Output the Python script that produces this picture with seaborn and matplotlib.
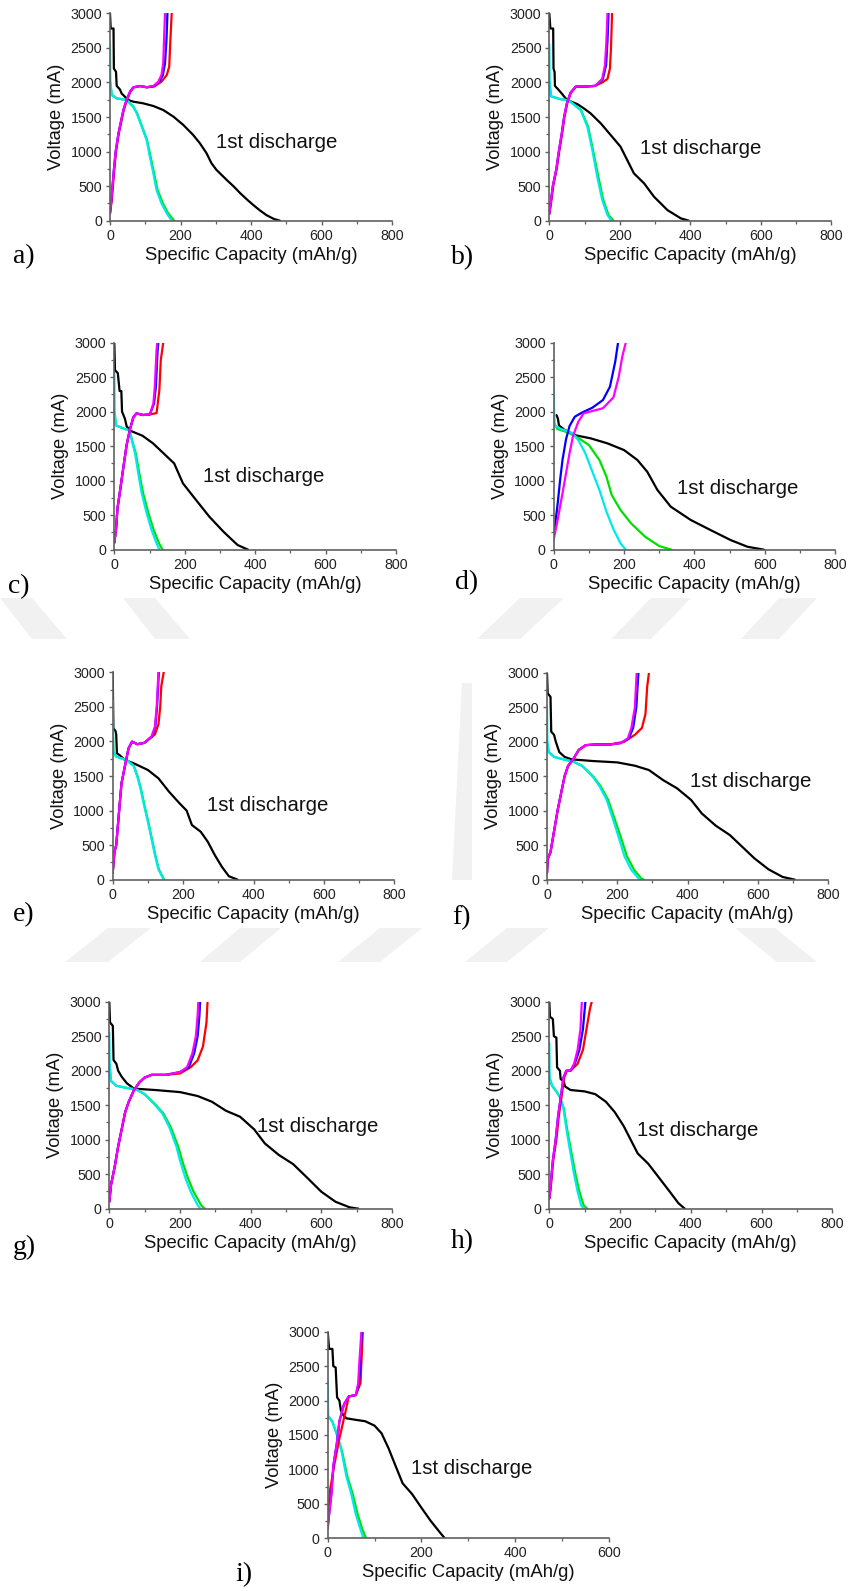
import matplotlib
matplotlib.use("Agg")
import matplotlib.pyplot as plt
import pandas as pd
import seaborn as sns
from matplotlib.ticker import MultipleLocator
from matplotlib.patches import Polygon

# ---------------- data (capacity mAh/g, voltage) ----------------
a_black = [(0,3000),(2,2780),(10,2780),(11,2200),(17,2155),(19,1950),(28,1900),(33,1840),(42,1795),(52,1746),(66,1722),(94,1698),(123,1659),(151,1601),(180,1505),(208,1385),(236,1240),(255,1120),(274,975),(288,830),(302,735),(331,590),(350,500),(369,400),(390,300),(407,225),(425,150),(444,80),(465,25),(482,0)]
a_green = [(0,2000),(5,1818),(19,1770),(47,1746),(66,1650),(77,1553),(91,1360),(105,1167),(115,926),(125,685),(135,444),(150,251),(165,106),(182,0)]
a_cyan = [(0,2550),(1,2035),(5,1818),(19,1770),(47,1746),(66,1650),(76,1553),(90,1360),(104,1167),(113,926),(123,685),(132,444),(146,251),(161,106),(175,0)]
a_red = [(0,106),(5,300),(8,492),(12,733),(17,998),(25,1264),(32,1432),(39,1601),(48,1746),(58,1867),(67,1929),(86,1948),(105,1930),(125,1940),(146,2011),(161,2107),(168,2228),(170,2469),(175,3000)]
a_blue = [(0,106),(4,300),(7,492),(11,733),(16,998),(24,1264),(31,1432),(38,1601),(47,1746),(57,1867),(66,1929),(85,1948),(104,1930),(125,1948),(140,2011),(150,2107),(156,2276),(160,2600),(163,3000)]
a_magenta = [(0,106),(4,300),(7,492),(11,733),(16,998),(24,1264),(31,1432),(38,1601),(47,1746),(57,1867),(66,1929),(85,1948),(104,1930),(123,1948),(137,2011),(146,2107),(151,2276),(154,2710),(156,3000)]

b_black = [(0,3000),(3,2780),(11,2780),(12,2200),(15,2150),(16,1950),(25,1900),(35,1842),(50,1746),(79,1688),(98,1625),(117,1553),(146,1408),(174,1240),(202,1071),(221,878),(240,685),(269,540),(297,347),(335,154),(373,34),(396,0)]
b_green = [(0,2000),(5,1800),(30,1760),(55,1740),(90,1600),(110,1360),(124,1022),(139,637),(153,300),(168,82),(182,0)]
b_cyan = [(0,2550),(1,2000),(5,1800),(30,1760),(55,1740),(89,1600),(108,1360),(122,1022),(136,637),(150,300),(165,82),(176,0)]
b_red = [(0,100),(6,300),(11,500),(21,750),(28,1000),(36,1250),(43,1500),(51,1700),(61,1850),(76,1940),(100,1940),(130,1950),(150,2000),(165,2050),(172,2200),(175,2500),(178,3000)]
b_blue = [(0,100),(5,300),(10,500),(20,750),(27,1000),(35,1250),(42,1500),(50,1700),(60,1850),(75,1940),(100,1940),(130,1950),(152,2050),(161,2250),(165,2600),(168,3000)]
b_magenta = [(0,100),(5,300),(10,500),(20,750),(27,1000),(35,1250),(42,1500),(50,1700),(60,1850),(75,1940),(100,1940),(130,1950),(150,2050),(158,2250),(162,2600),(165,3000)]

c_black = [(0,3000),(2,2600),(10,2560),(15,2300),(20,2300),(22,2000),(30,1900),(35,1790),(45,1725),(80,1652),(110,1541),(140,1396),(170,1251),(195,961),(230,734),(270,478),(310,261),(350,68),(380,0)]
c_green = [(0,2000),(5,1800),(30,1750),(43,1730),(55,1500),(61,1396),(71,1106),(82,816),(97,527),(112,285),(127,92),(137,0)]
c_cyan = [(0,2550),(1,2000),(5,1800),(30,1750),(43,1730),(54,1500),(59,1396),(68,1106),(78,816),(92,527),(106,285),(120,92),(128,0)]
c_red = [(0,100),(5,300),(9,600),(16,840),(26,1203),(35,1517),(44,1734),(54,1918),(63,1976),(82,1952),(101,1961),(120,1980),(128,2314),(132,2749),(139,3000)]
c_blue = [(0,100),(5,300),(9,600),(16,840),(26,1203),(35,1517),(44,1734),(54,1918),(63,1976),(82,1952),(101,1961),(113,2121),(118,2362),(123,2894),(125,3000)]
c_magenta = [(0,100),(5,300),(9,600),(16,840),(26,1203),(35,1517),(44,1734),(54,1918),(63,1976),(82,1952),(101,1961),(111,2121),(115,2362),(120,2894),(122,3000)]

d_black = [(8,1950),(12,1900),(15,1800),(30,1740),(58,1662),(105,1614),(153,1541),(200,1444),(238,1300),(266,1130),(295,865),(333,623),(390,430),(446,285),(503,140),(551,43),(598,0)]
d_green = [(0,1850),(10,1750),(40,1700),(70,1620),(100,1517),(130,1300),(150,1058),(165,792),(190,575),(220,382),(260,188),(300,53),(335,0)]
d_cyan = [(0,2350),(1,2000),(3,1800),(20,1750),(50,1700),(70,1589),(90,1396),(110,1130),(130,865),(150,551),(170,295),(190,92),(205,0)]
d_red = []
d_blue = [(0,200),(5,400),(12,700),(18,1000),(25,1300),(35,1599),(45,1792),(60,1927),(80,1986),(110,2058),(140,2169),(160,2362),(175,2725),(183,3000)]
d_magenta = [(0,150),(10,400),(25,816),(35,1106),(45,1396),(55,1650),(70,1855),(85,1976),(110,2010),(140,2050),(170,2208),(185,2507),(195,2797),(205,3000)]

e_black = [(0,3000),(2,2190),(8,2150),(10,2100),(12,1828),(20,1800),(35,1731),(60,1683),(100,1587),(130,1466),(160,1273),(190,1104),(210,1000),(225,791),(250,694),(270,550),(290,357),(310,188),(330,50),(355,0)]
e_green = [(0,2200),(2,1850),(10,1780),(30,1746),(42,1720),(60,1645),(71,1490),(81,1297),(91,1056),(101,839),(111,598),(121,357),(131,150),(146,0)]
e_cyan = [(0,2600),(1,2200),(2,1850),(10,1780),(30,1746),(42,1720),(60,1645),(70,1490),(80,1297),(90,1056),(100,839),(110,598),(120,357),(130,150),(145,0)]
e_red = [(0,100),(5,400),(10,500),(15,800),(20,1100),(25,1394),(35,1650),(45,1900),(55,1997),(70,1960),(90,1980),(110,2069),(120,2100),(130,2250),(135,2500),(138,2800),(145,3000)]
e_blue = [(0,100),(5,400),(10,500),(15,800),(20,1100),(25,1394),(35,1650),(45,1900),(55,1997),(70,1960),(90,1980),(112,2069),(121,2214),(126,2503),(131,3000)]
e_magenta = [(0,100),(5,400),(10,500),(15,800),(20,1100),(25,1394),(35,1650),(45,1900),(55,1997),(70,1960),(90,1980),(110,2069),(120,2214),(125,2503),(130,3000)]

f_black = [(0,3000),(2,2700),(10,2650),(12,2145),(20,2100),(25,2000),(35,1850),(50,1780),(70,1744),(130,1720),(200,1700),(250,1652),(290,1589),(330,1444),(370,1324),(410,1155),(440,961),(480,783),(520,647),(550,502),(590,309),(630,150),(670,40),(705,0)]
f_green = [(0,2000),(5,1850),(20,1780),(50,1740),(75,1710),(100,1650),(132,1493),(153,1350),(174,1155),(195,840),(211,599),(227,343),(248,140),(268,20),(275,0)]
f_cyan = [(0,2500),(1,2000),(5,1850),(20,1780),(50,1740),(75,1710),(100,1650),(130,1493),(150,1350),(170,1155),(190,840),(205,599),(220,343),(240,140),(260,20),(265,0)]
f_red = [(0,100),(2,300),(10,400),(20,700),(30,1000),(40,1250),(50,1500),(60,1650),(75,1750),(90,1879),(110,1950),(140,1960),(180,1960),(220,2000),(250,2100),(270,2200),(280,2400),(285,2800),(290,3000)]
f_blue = [(0,100),(2,300),(10,400),(20,700),(30,1000),(40,1250),(50,1500),(60,1650),(75,1750),(90,1879),(110,1950),(140,1960),(180,1960),(210,1980),(233,2050),(245,2200),(254,2500),(260,3000)]
f_magenta = [(0,100),(2,300),(10,400),(20,700),(30,1000),(40,1250),(50,1500),(60,1650),(75,1750),(90,1879),(110,1950),(140,1960),(180,1960),(210,1980),(230,2050),(240,2200),(250,2500),(255,3000)]

g_black = [(0,3000),(2,2700),(10,2650),(12,2155),(20,2100),(25,2000),(35,1913),(50,1816),(70,1740),(130,1720),(200,1690),(250,1633),(290,1551),(330,1420),(370,1333),(410,1150),(440,947),(480,778),(520,647),(560,449),(600,246),(640,101),(680,20),(705,0)]
g_green = [(0,2100),(5,1850),(20,1780),(50,1750),(75,1730),(100,1660),(132,1500),(153,1380),(174,1180),(195,900),(206,700),(222,450),(238,250),(260,50),(270,0)]
g_cyan = [(0,2550),(1,2100),(5,1850),(20,1780),(50,1750),(75,1730),(100,1660),(130,1500),(150,1380),(170,1180),(190,900),(200,700),(215,450),(230,250),(250,50),(258,0)]
g_red = [(0,100),(5,350),(15,600),(25,900),(35,1150),(45,1400),(55,1550),(70,1720),(85,1830),(100,1900),(120,1940),(160,1940),(200,1960),(230,2050),(250,2150),(265,2350),(275,2700),(278,3000)]
g_blue = [(0,100),(5,350),(15,600),(25,900),(35,1150),(45,1400),(55,1550),(70,1720),(85,1830),(100,1900),(120,1940),(160,1940),(200,1980),(225,2050),(240,2250),(250,2500),(255,2800),(257,3000)]
g_magenta = [(0,100),(5,350),(15,600),(25,900),(35,1150),(45,1400),(55,1550),(70,1720),(85,1830),(100,1900),(120,1940),(160,1940),(200,1980),(220,2050),(235,2250),(245,2500),(250,2800),(252,3000)]

h_black = [(0,3000),(2,2780),(10,2750),(13,2500),(20,2480),(22,2048),(30,2000),(32,1880),(40,1850),(45,1770),(60,1720),(100,1700),(130,1660),(160,1550),(185,1400),(210,1200),(230,1000),(250,800),(280,650),(310,450),(340,250),(365,80),(383,0)]
h_green = [(0,1900),(8,1780),(20,1700),(30,1618),(41,1450),(52,1100),(63,800),(74,500),(85,250),(97,50),(107,0)]
h_cyan = [(0,2400),(1,1900),(8,1780),(20,1700),(30,1618),(40,1450),(50,1100),(60,800),(70,500),(80,250),(90,50),(98,0)]
h_red = [(0,150),(4,300),(11,700),(20,1000),(27,1350),(34,1600),(42,1900),(50,2000),(60,2000),(80,2100),(95,2300),(105,2600),(115,2900),(120,3000)]
h_blue = [(0,150),(3,300),(10,700),(18,1000),(25,1350),(32,1600),(40,1900),(48,2000),(60,2000),(72,2100),(85,2300),(95,2600),(102,3000)]
h_magenta = [(0,150),(3,300),(10,700),(18,1000),(25,1350),(32,1600),(40,1900),(48,2000),(60,2000),(70,2100),(80,2300),(88,2600),(92,3000)]

i_black = [(0,3000),(3,2750),(10,2750),(12,2500),(17,2480),(20,2047),(25,2000),(28,1863),(33,1790),(40,1742),(60,1720),(80,1700),(100,1636),(115,1524),(130,1306),(145,1050),(160,798),(180,644),(200,445),(220,252),(240,82),(250,0)]
i_green = [(0,1780),(10,1694),(20,1500),(31,1250),(42,895),(53,653),(64,348),(74,130),(82,0)]
i_cyan = [(0,2300),(1,1780),(10,1694),(20,1500),(30,1250),(40,895),(50,653),(60,348),(70,130),(76,0)]
i_red = [(0,300),(5,700),(15,1100),(25,1450),(40,1900),(45,2060),(60,2080),(70,2250),(72,2550),(75,3000)]
i_blue = [(0,150),(3,350),(8,650),(12,1050),(20,1400),(25,1700),(35,1950),(45,2060),(60,2080),(67,2250),(70,2600),(73,3000)]
i_magenta = [(0,150),(3,350),(8,650),(12,1050),(20,1400),(25,1700),(35,1950),(45,2060),(60,2080),(65,2250),(68,2600),(72,3000)]

panel_letters = ["a", "b", "c", "d", "e", "f", "g", "h", "i"]
x_max = [800, 800, 800, 800, 800, 800, 800, 800, 600]
series_names = ["black", "green", "cyan", "red", "blue", "magenta"]
series_colors = {"black": "#000000", "green": "#00e000", "cyan": "#00e8f0",
                 "red": "#ff0000", "blue": "#0000ff", "magenta": "#ff00ff"}
x_label = "Specific Capacity (mAh/g)"
y_label = "Voltage (mA)"
note_text = "1st discharge"

# ---------------- layout (pixels) ----------------
W, H = 848, 1591
axes_px = {  # left, top, right, bottom
    "a": (110, 13.3, 392, 220.7), "b": (549.3, 13.3, 831.3, 220.7),
    "c": (114.3, 342.7, 396, 549.7), "d": (553.7, 342.7, 835, 549.7),
    "e": (112.7, 672.3, 394.3, 879.7), "f": (547, 672.7, 828.3, 879.7),
    "g": (109.3, 1001.7, 392, 1208.7), "h": (549.3, 1001.7, 832.3, 1208.7),
    "i": (327.7, 1331.7, 608.7, 1538.3),
}
note_pos = {"a": (300, 1124), "b": (257, 1051), "c": (252, 1058), "d": (351, 890),
            "e": (268, 1080), "f": (407, 1420), "g": (418, 1188), "h": (248, 1140),
            "i": (177, 1016)}
tag_px = {"a": (13, 257), "b": (451, 258), "c": (8, 587), "d": (455, 583),
          "e": (13, 915), "f": (452, 918), "g": (13, 1247), "h": (451, 1242),
          "i": (235, 1575)}

sns.set_style("ticks")
plt.rcParams["font.family"] = ["Liberation Sans", "DejaVu Sans"]

fig = plt.figure(figsize=(W / 100, H / 100), dpi=100)
fig.patch.set_facecolor("white")

# faint background watermark stripes (drawn behind everything)
wm = "#f1f1f1"
def quad(pts):
    fig.patches.append(Polygon([(x / W, 1 - y / H) for x, y in pts], closed=True,
                               transform=fig.transFigure, facecolor=wm, edgecolor="none", zorder=-10))
y0, y1 = 598, 639
for (t0, t1, b0, b1) in [(0, 32, 32, 67), (123, 155, 155, 190)]:
    quad([(t0, y0), (t1, y0), (b1, y1), (b0, y1)])
for (b0, b1, t0, t1) in [(477, 520, 520, 564), (611, 651, 651, 691), (741, 779, 779, 817)]:
    quad([(b0, y1), (b1, y1), (t1, y0), (t0, y0)])
y0, y1 = 928, 962
for (b0, b1, t0, t1) in [(65, 108, 108, 151), (200, 240, 240, 281), (338, 380, 380, 422), (465, 507, 507, 549)]:
    quad([(b0, y1), (b1, y1), (t1, y0), (t0, y0)])
quad([(735, y0), (775, y0), (817, y1), (777, y1)])
quad([(452, 880), (472, 880), (472, 683), (462, 683)])

g = globals()
for letter, xm in zip(panel_letters, x_max):
    l, t, r, b = axes_px[letter]
    ax = fig.add_axes([l / W, 1 - b / H, (r - l) / W, (b - t) / H])
    ax.set_facecolor("none")
    for name in series_names:
        pts = g[f"{letter}_{name}"]
        if not pts:
            continue
        df = pd.DataFrame(pts, columns=["cap", "volt"])
        sns.lineplot(data=df, x="cap", y="volt", sort=False, estimator=None,
                     color=series_colors[name], lw=1.6, ax=ax, legend=False)
    ax.set_xlim(0, xm)
    ax.set_ylim(0, 3000)
    ax.xaxis.set_major_locator(MultipleLocator(200))
    ax.xaxis.set_minor_locator(MultipleLocator(100))
    ax.yaxis.set_major_locator(MultipleLocator(500))
    ax.yaxis.set_minor_locator(MultipleLocator(250))
    for s in ("top", "right"):
        ax.spines[s].set_visible(False)
    for s in ("left", "bottom"):
        ax.spines[s].set_color("#606060")
        ax.spines[s].set_linewidth(1.2)
    ax.tick_params(which="major", direction="out", length=3.2, width=1, color="#606060",
                   labelsize=10.3, labelcolor="#222222", pad=2.5)
    ax.tick_params(which="minor", direction="out", length=2, width=0.9, color="#606060")
    ax.set_xlabel(x_label, fontsize=13.3, color="#111111", labelpad=3)
    ax.set_ylabel(y_label, fontsize=13.2, color="#111111", labelpad=4)
    nx, ny = note_pos[letter]
    ax.text(nx, ny, note_text, fontsize=14.7, color="#111111", ha="left", va="center")
    tx, ty = tag_px[letter]
    fig.text(tx / W, 1 - ty / H, f"{letter})", fontsize=20, family=["Liberation Serif", "DejaVu Serif"],
             ha="left", va="center", color="black")

fig.savefig("out.png", dpi=100, facecolor="white")
